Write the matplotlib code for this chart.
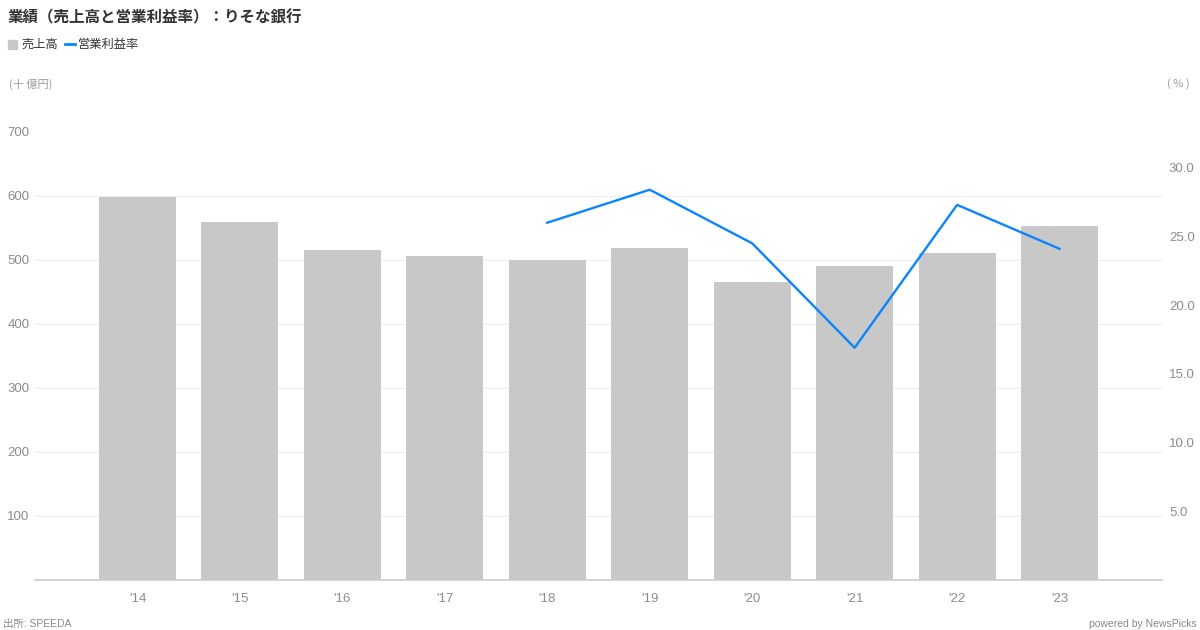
import matplotlib
matplotlib.use("Agg")
import matplotlib.pyplot as plt
from matplotlib.patches import Rectangle
from matplotlib.lines import Line2D

plt.rcParams['font.family'] = ['Noto Sans CJK JP', 'DejaVu Sans']

years = ["'14", "'15", "'16", "'17", "'18", "'19", "'20", "'21", "'22", "'23"]
sales = [598, 559, 516, 506, 500, 519, 466, 491, 511, 553]
margin = [None, None, None, None, 26.0, 28.4, 24.5, 16.9, 27.3, 24.1]
left_ticks = [100, 200, 300, 400, 500, 600, 700]
right_ticks = [5.0, 10.0, 15.0, 20.0, 25.0, 30.0]

W, H = 1200, 630
fig = plt.figure(figsize=(12, 6.3), dpi=100)
ax = fig.add_axes([35 / W, (H - 580) / H, (1162 - 35) / W, (580 - 132) / H])
ax2 = ax.twinx()

x = list(range(len(years)))
ax.bar(x, sales, width=0.75, color='#c8c8c8', zorder=2)
ax.set_xlim(-1, 10)
ax.set_ylim(0, 700)
ax.set_yticks(left_ticks)
ax.set_yticklabels([str(t) for t in left_ticks])
for t in left_ticks[:-1]:
    ax.axhline(t, color='#eeeeee', lw=0.8, zorder=1)
ax.set_xticks(x)
ax.set_xticklabels(years)

mx = [i for i, v in zip(x, margin) if v is not None]
my = [v for v in margin if v is not None]
ax2.plot(mx, my, color='#0a84ff', lw=1.7, zorder=3)
ax2.set_ylim(0, 32.6)
ax2.set_yticks(right_ticks)
ax2.set_yticklabels([f"{t:.1f}" for t in right_ticks])

num_font = ['Liberation Sans', 'DejaVu Sans']
for a in (ax, ax2):
    for s in a.spines.values():
        s.set_visible(False)
    a.tick_params(length=0, colors='#8c8c8c', labelsize=9.5)
    for lab in a.get_xticklabels() + a.get_yticklabels():
        lab.set_fontfamily(num_font)
ax.spines['bottom'].set_visible(True)
ax.spines['bottom'].set_color('#cccccc')
ax.spines['bottom'].set_linewidth(1.2)
ax.tick_params(axis='y', pad=4)
ax.tick_params(axis='x', pad=9)
ax2.tick_params(axis='y', pad=5)

fig.text(8 / W, 1 - 17 / H, "業績（売上高と営業利益率）：りそな銀行", fontsize=11.2,
         fontweight='bold', color='#333333', va='center', ha='left')
# legend
fig.patches.append(Rectangle((8 / W, 1 - 49 / H), 9 / W, 9 / H, transform=fig.transFigure,
                             color='#c8c8c8'))
fig.text(21 / W, 1 - 44.5 / H, "売上高", fontsize=8.8, color='#333333', va='center')
fig.lines.append(Line2D([65 / W, 75 / W], [1 - 44 / H, 1 - 44 / H], transform=fig.transFigure,
                        color='#0a84ff', lw=2))
fig.text(78 / W, 1 - 44.5 / H, "営業利益率", fontsize=8.8, color='#333333', va='center')

fig.text(9 / W, 1 - 84 / H, "(十 億円)", fontsize=8, color='#999999', va='center')
fig.text(1190 / W, 1 - 84 / H, "( % )", fontsize=8, color='#999999', va='center', ha='right')
fig.text(3 / W, 1 - 624 / H, "出所: SPEEDA", fontsize=7.5, color='#888888', va='center',
         family=['Liberation Sans', 'Noto Sans CJK JP'])
fig.text(1197 / W, 1 - 624 / H, "powered by NewsPicks", fontsize=7.5, color='#888888',
         va='center', ha='right', family=['Liberation Sans', 'DejaVu Sans'])

fig.savefig("out.png", dpi=100, facecolor='white')
